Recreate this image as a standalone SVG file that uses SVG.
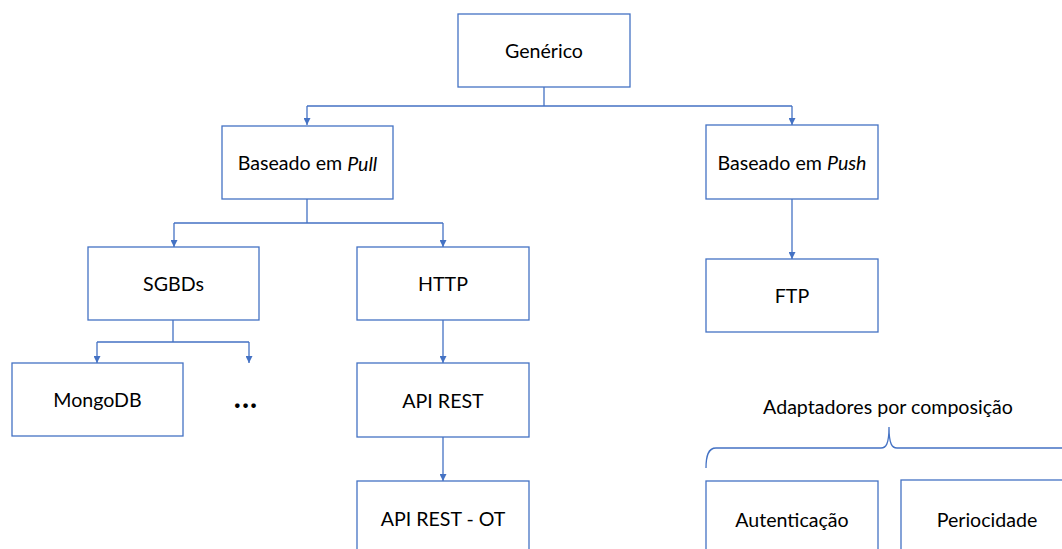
<svg xmlns="http://www.w3.org/2000/svg" width="1062" height="549" viewBox="0 0 1062 549">
  <style>
    .box { fill: #ffffff; stroke: #4472C4; stroke-width: 1.3; }
    .lbl { font-family: Lato, "Open Sans", "Liberation Sans", sans-serif; font-size: 19.6px; fill: #000000; text-anchor: middle; dominant-baseline: central; }
    .link { fill: none; stroke: #4472C4; stroke-width: 1.3; }
    .arrow { fill: none; stroke: #4472C4; stroke-width: 1.3; marker-end: url(#head); }
  </style>
  <defs>
    <marker id="head" viewBox="0 0 10 10" refX="10" refY="5" markerWidth="7" markerHeight="7" markerUnits="userSpaceOnUse" orient="auto">
      <path d="M0,0 L10,5 L0,10 z" fill="#4472C4"/>
    </marker>
  </defs>
  <rect width="1062" height="549" fill="#ffffff"/>

  <g id="connectors">
    <!-- Genérico to Pull / Push -->
    <path class="link" d="M544,87 V106 M307,106 H792"/>
    <path class="arrow" d="M307,106 V125"/>
    <path class="arrow" d="M792,106 V125"/>
    <!-- Pull to SGBDs / HTTP -->
    <path class="link" d="M307,199 V223 M174,223 H443"/>
    <path class="arrow" d="M174,223 V247"/>
    <path class="arrow" d="M443,223 V247"/>
    <!-- SGBDs to MongoDB / ... -->
    <path class="link" d="M173,320 V342 M97,342 H249"/>
    <path class="arrow" d="M97,342 V363"/>
    <path class="arrow" d="M249,342 V363"/>
    <!-- HTTP chain -->
    <path class="arrow" d="M443,320 V363"/>
    <path class="arrow" d="M443,437 V481"/>
    <!-- Push to FTP -->
    <path class="arrow" d="M792,199 V259"/>
    <!-- brace over the composition adapters -->
    <path class="link" d="M706,468 C706,456 708,448 716,448 H881 C886,448 889,444 889,427 C889,444 892,448 897,448 H1062"/>
  </g>

  <g id="generico">
    <rect class="box" x="458" y="14" width="172" height="73"/>
    <text class="lbl" x="544" y="50.5">Genérico</text>
  </g>
  <g id="pull">
    <rect class="box" x="222" y="126" width="171" height="73"/>
    <text class="lbl" x="307.5" y="162.5">Baseado em <tspan font-style="italic">Pull</tspan></text>
  </g>
  <g id="push">
    <rect class="box" x="706" y="125" width="172" height="74"/>
    <text class="lbl" x="792" y="162">Baseado em <tspan font-style="italic">Push</tspan></text>
  </g>
  <g id="sgbds">
    <rect class="box" x="88" y="247" width="171" height="73"/>
    <text class="lbl" x="173.5" y="283.5">SGBDs</text>
  </g>
  <g id="http">
    <rect class="box" x="357" y="247" width="172" height="73"/>
    <text class="lbl" x="443" y="283.5">HTTP</text>
  </g>
  <g id="ftp">
    <rect class="box" x="706" y="259" width="172" height="73"/>
    <text class="lbl" x="792" y="295.5">FTP</text>
  </g>
  <g id="mongodb">
    <rect class="box" x="12" y="363" width="171" height="73"/>
    <text class="lbl" x="97.5" y="399.5">MongoDB</text>
  </g>
  <g id="more">
    <text x="246" y="408" font-family="Lato, 'Liberation Sans', sans-serif" font-size="30px" font-weight="bold" letter-spacing="1" text-anchor="middle" fill="#000000">...</text>
  </g>
  <g id="apirest">
    <rect class="box" x="357" y="363" width="172" height="74"/>
    <text class="lbl" x="443" y="400">API REST</text>
  </g>
  <g id="apirestot">
    <rect class="box" x="357" y="481" width="172" height="80"/>
    <text class="lbl" x="443" y="518">API REST - OT</text>
  </g>
  <g id="adaptadores">
    <text class="lbl" x="888" y="406">Adaptadores por composição</text>
  </g>
  <g id="autenticacao">
    <rect class="box" x="706" y="481" width="172" height="80"/>
    <text class="lbl" x="792" y="519">Autenticação</text>
  </g>
  <g id="periocidade">
    <rect class="box" x="901" y="480" width="172" height="81"/>
    <text class="lbl" x="987" y="519">Periocidade</text>
  </g>
</svg>
